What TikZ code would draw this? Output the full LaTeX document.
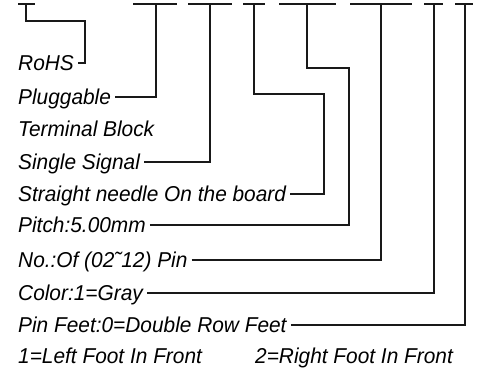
\documentclass[tikz,border=0pt]{standalone}
\usepackage{fontspec}
\newfontfamily\isofont{Liberation Sans}[FakeStretch=0.97]
\begin{document}
\begin{tikzpicture}[x=1pt,y=-1pt,
  lbl/.style={anchor=base west, inner sep=0pt, font=\isofont\itshape\fontsize{21.5}{24}\selectfont},
  wire/.style={line width=1.1pt, draw=black!90},
  gap/.style={xshift=4pt,yshift=7.5pt}]
\useasboundingbox (0,0) rectangle (495,369);
% top code segments
\coordinate (a1) at (18,4);  \coordinate (b1) at (35,4);  \coordinate (p1) at (26,4);
\coordinate (a2) at (133,4); \coordinate (b2) at (177,4); \coordinate (p2) at (156,4);
\coordinate (a3) at (188,4); \coordinate (b3) at (232,4); \coordinate (p3) at (210,4);
\coordinate (a4) at (243,4); \coordinate (b4) at (265,4); \coordinate (p4) at (254,4);
\coordinate (a5) at (279,4); \coordinate (b5) at (336,4); \coordinate (p5) at (307,4);
\coordinate (a6) at (350,4); \coordinate (b6) at (412,4); \coordinate (p6) at (381,4);
\coordinate (a7) at (424,4); \coordinate (b7) at (443,4); \coordinate (p7) at (434,4);
\coordinate (a8) at (455,4); \coordinate (b8) at (473,4); \coordinate (p8) at (465,4);
\foreach \i in {1,...,8} {\draw[wire] (a\i) -- (b\i);}
% labels
\node[lbl] (t1) at (18,70.5) {RoHS};
\node[lbl] (t2) at (18,104.5) {Pluggable};
\node[lbl] (tb) at (18,136) {Terminal Block};
\node[lbl] (t3) at (18,169.5) {Single Signal};
\node[lbl] (t4) at (18,201.5) {Straight needle On the board};
\node[lbl] (t5) at (18,232.5) {Pitch:5.00mm};
\node[lbl] (t6) at (18,267.5) {No.:Of (02˜12) Pin};
\node[lbl] (t7) at (18,300.5) {Color:1=Gray};
\node[lbl] (t8) at (18,332.5) {Pin Feet:0=Double Row Feet};
\node[lbl] (l1) at (18,363) {1=Left Foot In Front};
\node[lbl] (l2) at (255,363) {2=Right Foot In Front};
% bend points
\coordinate (k1) at (85,21);
\coordinate (k4) at (324,94);
\coordinate (k5) at (349,68);
% connectors
\draw[wire] ([gap]t1.base east) -| (k1) -| (p1);
\draw[wire] ([gap]t2.base east) -| (p2);
\draw[wire] ([gap]t3.base east) -| (p3);
\draw[wire] ([gap]t4.base east) -| (k4) -| (p4);
\draw[wire] ([gap]t5.base east) -| (k5) -| (p5);
\draw[wire] ([gap]t6.base east) -| (p6);
\draw[wire] ([gap]t7.base east) -| (p7);
\draw[wire] ([gap]t8.base east) -| (p8);
\end{tikzpicture}
\end{document}
